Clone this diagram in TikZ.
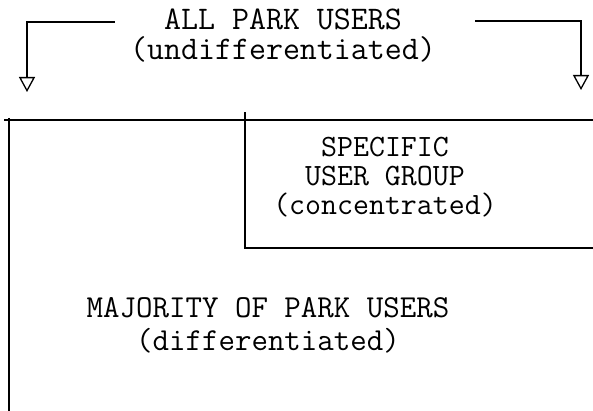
\documentclass[tikz,border=0pt]{standalone}
\usetikzlibrary{arrows.meta}
\tikzset{
  rule/.style={line width=1.3pt, line cap=rect},
  thickrule/.style={line width=2.8pt},
  drop/.style={rule, -{Triangle[open, width=16pt, length=15pt, line width=1.3pt]}},
  caption/.style={align=center, inner sep=0pt, text=black},
}
\begin{document}
\begin{tikzpicture}[x=1pt, y=-1pt]
\useasboundingbox (0,0) rectangle (593,411);

% heading above the whole population
\node[caption, font=\ttfamily\fontsize{33}{30}\selectfont] (all) at (283,36)
  {ALL PARK USERS\\(undifferentiated)};

% bracket ends and arrow tips
\coordinate (lstart) at (114,22);
\coordinate (ltip) at (27,92);
\coordinate (rstart) at (476,21);
\coordinate (rtip) at (581,90);
\draw[drop] (lstart) -| (ltip);
\draw[drop] (rstart) -| (rtip);

% outer frame: top rule and heavy left rule
\coordinate (tl) at (5,120);
\coordinate (tr) at (593,120);
\coordinate (lt) at (9,118);
\coordinate (lb) at (9,411);
\draw[rule] (tl) -- (tr);
\draw[thickrule] (lt) -- (lb);

% inner box for the concentrated group
\coordinate (it) at (245,113);
\coordinate (ic) at (245,248);
\coordinate (ir) at (593,248);
\draw[rule] (it) -- (ic) -- (ir);

\node[caption, font=\ttfamily\fontsize{31}{29}\selectfont] (specific) at (385,177)
  {SPECIFIC\\USER GROUP\\(concentrated)};

\node[caption, font=\ttfamily\fontsize{32}{33}\selectfont] (majority) at (268,325)
  {MAJORITY OF PARK USERS\\(differentiated)};
\end{tikzpicture}
\end{document}
